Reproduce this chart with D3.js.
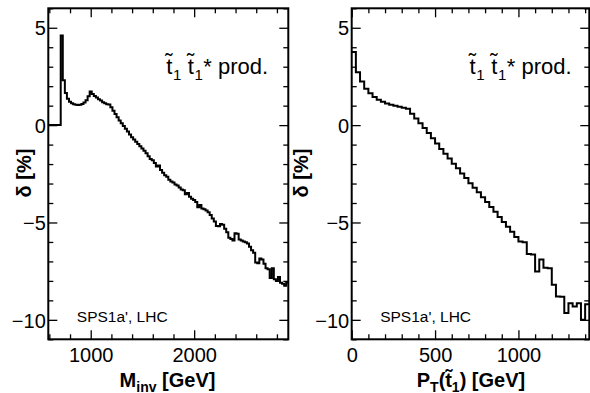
<!DOCTYPE html>
<html><head><meta charset="utf-8">
<script src="https://cdn.jsdelivr.net/npm/d3@7"></script>
<style>
body{margin:0;background:#fff}
svg{display:block}
text{font-family:"Liberation Sans",Arial,Helvetica,sans-serif;fill:#000}
</style>
</head><body>
<svg id="c" width="590" height="393"></svg>
<script>
// ---- data ----
const massBinStart = 590, massBinWidth = 20;       // GeV
const massValues = [
  0,0,0,0,0,0,4.6,2.3,1.65,1.35,
  1.2,1.12,1.07,1.04,1.03,1.05,1.09,1.16,1.28,1.48,
  1.73,1.6,1.5,1.42,1.33,1.26,1.18,1.12,1.07,1.06,
  0.92,0.74,0.57,0.40,0.24,0.09,-0.05,-0.19,-0.33,-0.48,
  -0.62,-0.74,-0.85,-0.97,-1.08,-1.2,-1.32,-1.45,-1.6,-1.74,
  -1.8,-1.95,-2.12,-2.08,-2.3,-2.45,-2.58,-2.65,-2.8,-2.9,
  -2.95,-3.05,-3.1,-3.2,-3.3,-3.35,-3.55,-3.48,-3.68,-3.78,
  -3.85,-3.95,-4.22,-4.1,-4.28,-4.32,-4.38,-4.48,-4.62,-4.8,
  -4.95,-5.18,-5.2,-5.08,-5.12,-5.32,-5.5,-5.78,-5.85,-5.92,
  -5.55,-5.58,-5.88,-5.92,-5.98,-6.02,-6.08,-6.25,-6.42,-6.55,
  -7.05,-7.1,-6.85,-6.9,-7.12,-7.35,-7.4,-7.85,-7.35,-7.92,
  -8.0,-7.8,-8.1,-8.15,-8.25,-8.1
];
const ptBinStart = 0, ptBinWidth = 25;             // GeV
const ptValues = [
  3.75,2.72,2.24,1.87,1.64,1.44,1.30,1.20,1.11,1.04,
  0.99,0.94,0.89,0.84,0.58,0.34,0.10,-0.15,-0.41,-0.68,
  -0.95,-1.22,-1.47,-1.72,-1.98,-2.22,-2.48,-2.72,-2.98,-3.22,
  -3.45,-3.70,-3.95,-4.2,-4.45,-4.72,-4.98,-5.22,-5.48,-5.75,
  -5.98,-6.02,-6.62,-6.65,-7.52,-6.9,-7.32,-7.35,-8.2,-8.8,
  -8.82,-9.65,-9.15,-9.32,-9.15,-10.0,-9.2
];
const yDomain = [-11, 6];
const yMajorTicks = [-10, -5, 0, 5];
const yMinorTicks = [-11,-9,-8,-7,-6,-4,-3,-2,-1,1,2,3,4,6];
const massDomain = [590, 2910];
const massMajorTicks = [1000, 2000];
const massMinorTicks = [600,800,1200,1400,1600,1800,2200,2400,2600,2800];
const ptDomain = [0, 1425];
const ptMajorTicks = [0, 500, 1000];
const ptMinorTicks = [100,200,300,400,600,700,800,900,1100,1200,1300,1400];
const infoLabel = "SPS1a', LHC";
const yTitle = "δ [%]";

// ---- drawing ----
const svg = d3.select("#c");
const plotTop = 8.3, plotBottom = 339.3;
const FONT = '"Liberation Sans",Arial,Helvetica,sans-serif';

function rich(g, x, y, size, parts, anchor, weight) {
  const t = g.append("text").attr("x", x).attr("y", y).attr("font-size", size)
    .attr("text-anchor", anchor || "start");
  if (weight) t.attr("font-weight", weight);
  parts.forEach(p => {
    const s = t.append("tspan").text(p.t);
    if (p.size) s.attr("font-size", p.size);
    if (p.dx) s.attr("dx", p.dx);
    if (p.dy) s.attr("dy", p.dy);
  });
  return t;
}

function panel(o) {
  const g = svg.append("g");
  const x = d3.scaleLinear().domain(o.xDomain).range([o.x0, o.x1]);
  const y = d3.scaleLinear().domain(yDomain).range([plotBottom, plotTop]);
  const id = "clip" + o.name;
  svg.append("clipPath").attr("id", id).append("rect")
    .attr("x", o.x0).attr("y", plotTop).attr("width", o.x1 - o.x0).attr("height", plotBottom - plotTop);

  const edges = o.values.map((v, i) => o.binStart + i * o.binWidth);
  const pts = o.values.map((v, i) => [edges[i], v]);
  pts.push([edges[edges.length - 1] + o.binWidth, o.values[o.values.length - 1]]);
  const line = d3.line().x(d => x(d[0])).y(d => y(d[1])).curve(d3.curveStepAfter);
  g.append("path").attr("d", line(pts)).attr("fill", "none").attr("stroke", "#000")
    .attr("stroke-width", 2).attr("clip-path", `url(#${id})`);

  function ax(gen, tr, vals, size, labels) {
    const a = gen.tickValues(vals).tickSize(-size).tickPadding(labels ? 9 : 0)
      .tickFormat(labels ? d3.format("d") : "");
    const s = g.append("g").attr("transform", tr).call(a);
    s.select(".domain").remove();
    s.selectAll("line").attr("stroke", "#000").attr("stroke-width", 1.3);
    s.selectAll("text").attr("font-size", 20).attr("font-family", FONT).attr("fill", "#000");
    return s;
  }
  const bx = ax(d3.axisBottom(x), `translate(0,${plotBottom})`, o.xMajor, 9, true);
  bx.selectAll("text").attr("y", 9).attr("dy", "0.71em");
  ax(d3.axisBottom(x), `translate(0,${plotBottom})`, o.xMinor, 5, false);
  ax(d3.axisTop(x), `translate(0,${plotTop})`, o.xMajor, 9, false);
  ax(d3.axisTop(x), `translate(0,${plotTop})`, o.xMinor, 5, false);
  const ly = ax(d3.axisLeft(y), `translate(${o.x0},0)`, yMajorTicks, 9, true);
  ly.selectAll("text").attr("x", -2.5).attr("dy", "0.36em");
  ax(d3.axisLeft(y), `translate(${o.x0},0)`, yMinorTicks, 5, false);
  ax(d3.axisRight(y), `translate(${o.x1},0)`, yMajorTicks, 9, false);
  ax(d3.axisRight(y), `translate(${o.x1},0)`, yMinorTicks, 5, false);

  g.append("rect").attr("x", o.x0).attr("y", plotTop).attr("width", o.x1 - o.x0)
    .attr("height", plotBottom - plotTop).attr("fill", "none").attr("stroke", "#000").attr("stroke-width", 2);

  // process label  t~1 t~1* prod.
  rich(g, o.x0 + 117, 74, 22, [
    {t: "t"}, {t: "˜", dx: -7.0, dy: -5}, {t: "1", size: 15, dx: 0.3, dy: 11},
    {t: "t", dx: 6.5, dy: -6}, {t: "˜", dx: -7.0, dy: -5}, {t: "1", size: 15, dx: 0.3, dy: 11},
    {t: "* prod.", dx: 0.5, dy: -6}
  ]);
  g.append("text").attr("x", o.x0 + 28.5).attr("y", 321.7).attr("font-size", 15.5).text(infoLabel);

  // y title
  g.append("text").attr("transform", `translate(${o.yTitleX},173) rotate(-90)`)
    .attr("text-anchor", "middle").attr("font-size", 20).attr("font-weight", "bold").text(yTitle);

  // x title
  rich(g, o.xTitleX, 386.5, 20, o.xTitle, "middle", "bold");
}

panel({
  name: "m", x0: 48.3, x1: 288.3, xDomain: massDomain, values: massValues,
  binStart: massBinStart, binWidth: massBinWidth, xMajor: massMajorTicks, xMinor: massMinorTicks,
  yTitleX: 31, xTitleX: 167.5,
  xTitle: [{t: "M"}, {t: "inv", size: 14, dy: 5}, {t: " [GeV]", dy: -5}]
});
panel({
  name: "p", x0: 351.7, x1: 589.3, xDomain: ptDomain, values: ptValues,
  binStart: ptBinStart, binWidth: ptBinWidth, xMajor: ptMajorTicks, xMinor: ptMinorTicks,
  yTitleX: 308, xTitleX: 471,
  xTitle: [{t: "P"}, {t: "T", size: 14, dy: 5}, {t: "(t", dy: -5}, {t: "˜", dx: -6.8, dy: -3},
           {t: "1", size: 14, dx: 0, dy: 8}, {t: ") [GeV]", dy: -5}]
});
</script>
</body></html>
